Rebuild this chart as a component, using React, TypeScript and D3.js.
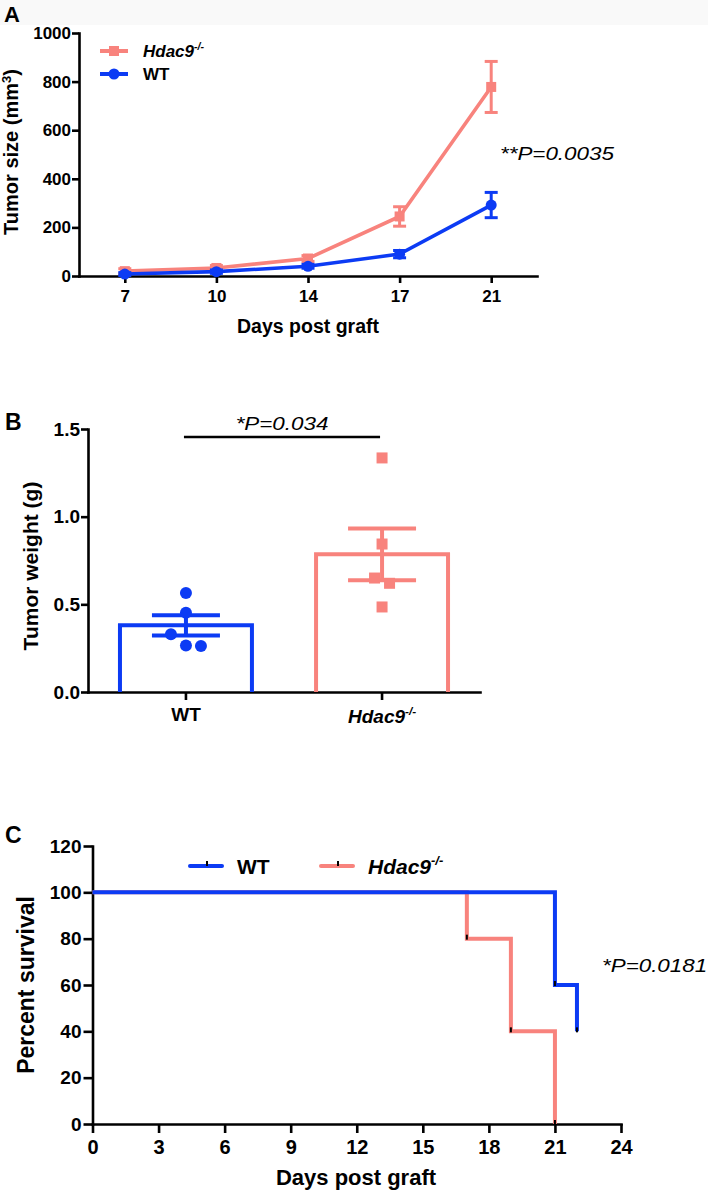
import React, { useEffect, useRef } from 'react';
import * as d3 from 'd3';

const PINK = '#F8837D';
const BLUE = '#0C3BF4';
const FONT = '"Liberation Sans", Arial, Helvetica, sans-serif';

// Panel A - tumor growth
const daysA = ['7', '10', '14', '17', '21'];
const koMeanA = [20, 33, 72, 245, 778];
const koSemA = [10, 10, 12, 40, 105];
const wtMeanA = [8, 18, 40, 90, 292];
const wtSemA = [6, 7, 8, 15, 52];
const ticksA = [0, 200, 400, 600, 800, 1000];

// Panel B - tumor weight
const groupsB = ['WT', 'Hdac9'];
const meanB = [0.38, 0.785];
const semB = [0.058, 0.148];
const wtPointsB = [0.565, 0.452, 0.33, 0.262, 0.265];
const koPointsB = [1.335, 0.844, 0.65, 0.62, 0.485];
const ticksB = [0, 0.5, 1.0, 1.5];
const sigB = 1.455;

// Panel C - survival
const timeWT = [0, 21, 22];
const survWT = [100, 60, 40];
const timeKO = [0, 17, 19, 21];
const survKO = [100, 80, 40, 0];
const ticksCx = [0, 3, 6, 9, 12, 15, 18, 21, 24];
const ticksCy = [0, 20, 40, 60, 80, 100, 120];

const App: React.FC = () => {
  const svgRef = useRef<SVGSVGElement>(null);

  useEffect(() => {
    if (!svgRef.current) return;
    const svg = d3.select(svgRef.current);
    svg.selectAll('*').remove();

    svg.append('rect').attr('width', 708).attr('height', 1191).attr('fill', '#fff');
    svg.append('rect').attr('width', 708).attr('height', 25).attr('fill', '#f9f9f9');

    const label = (x: number, y: number, str: string, size: number, opts: any = {}) => {
      let tr = `translate(${x},${y})`;
      if (opts.rotate) tr += ` rotate(${opts.rotate})`;
      if (opts.sx) tr += ` scale(${opts.sx},1)`;
      const t = svg.append('text')
        .attr('transform', tr)
        .attr('text-anchor', opts.anchor || 'start')
        .style('font-family', FONT)
        .style('font-size', size + 'px')
        .style('font-weight', opts.weight || 'bold')
        .style('font-style', opts.italic ? 'italic' : 'normal')
        .attr('fill', '#000');
      t.text(str);
      return t;
    };

    // gene name with superscript -/-
    const geneLabel = (x: number, y: number, size: number, anchor = 'start') => {
      const t = label(x, y, 'Hdac9', size, { italic: true, anchor });
      t.append('tspan')
        .attr('dy', -0.42 * size)
        .style('font-size', size * 0.62 + 'px')
        .text('-/-');
      return t;
    };

    const styleAxis = (g: any, size: number) => {
      g.attr('font-family', FONT).attr('font-size', size).attr('font-weight', 'bold');
      g.select('.domain').attr('stroke', '#000').attr('stroke-width', 2.6).attr('stroke-linecap', 'square');
      g.selectAll('.tick line').attr('stroke', '#000').attr('stroke-width', 2.6);
      g.selectAll('.tick text').attr('fill', '#000');
    };

    // ---------- Panel A ----------
    const xA = d3.scalePoint<string>().domain(daysA).range([79, 537]).padding(0.5);
    const yA = d3.scaleLinear().domain([0, 1000]).range([276, 33]);

    label(4, 22, 'A', 22);

    const gyA = svg.append('g').attr('transform', 'translate(79,0)')
      .call(d3.axisLeft(yA).tickValues(ticksA).tickFormat(d3.format('d') as any)
        .tickSize(7).tickSizeOuter(0).tickPadding(1) as any);
    styleAxis(gyA, 17);
    const gxA = svg.append('g').attr('transform', 'translate(0,276)')
      .call(d3.axisBottom(xA).tickSize(7).tickSizeOuter(0).tickPadding(7) as any);
    styleAxis(gxA, 17);

    label(18, 152, 'Tumor size (mm', 20, { rotate: -90, anchor: 'middle' })
      .call((t: any) => {
        t.append('tspan').attr('dy', -7).style('font-size', '13px').text('3');
        t.append('tspan').attr('dy', 7).text(')');
      });
    label(308, 333, 'Days post graft', 19.5, { anchor: 'middle' });

    const seriesA = [
      { mean: koMeanA, sem: koSemA, color: PINK, shape: 'square' },
      { mean: wtMeanA, sem: wtSemA, color: BLUE, shape: 'circle' },
    ];
    const lineA = d3.line<number>().x((_, i) => xA(daysA[i]) as number).y((d) => yA(d));
    seriesA.forEach((s) => {
      const g = svg.append('g');
      g.append('path').datum(s.mean).attr('d', lineA).attr('fill', 'none')
        .attr('stroke', s.color).attr('stroke-width', 3.6);
      s.mean.forEach((m, i) => {
        const cx = xA(daysA[i]) as number;
        const lo = yA(m - s.sem[i]);
        const hi = yA(m + s.sem[i]);
        g.append('line').attr('x1', cx).attr('x2', cx).attr('y1', lo).attr('y2', hi)
          .attr('stroke', s.color).attr('stroke-width', 3);
        [lo, hi].forEach((yy) => {
          g.append('line').attr('x1', cx - 6.5).attr('x2', cx + 6.5).attr('y1', yy).attr('y2', yy)
            .attr('stroke', s.color).attr('stroke-width', 3);
        });
        if (s.shape === 'square') {
          g.append('rect').attr('x', cx - 5).attr('y', yA(m) - 5).attr('width', 10).attr('height', 10)
            .attr('fill', s.color);
        } else {
          g.append('circle').attr('cx', cx).attr('cy', yA(m)).attr('r', 5.5).attr('fill', s.color);
        }
      });
    });

    // legend A
    svg.append('line').attr('x1', 100).attr('x2', 128).attr('y1', 51).attr('y2', 51)
      .attr('stroke', PINK).attr('stroke-width', 4);
    svg.append('rect').attr('x', 109).attr('y', 46).attr('width', 10).attr('height', 10).attr('fill', PINK);
    geneLabel(143, 57, 17);
    svg.append('line').attr('x1', 100).attr('x2', 128).attr('y1', 74).attr('y2', 74)
      .attr('stroke', BLUE).attr('stroke-width', 4);
    svg.append('circle').attr('cx', 114).attr('cy', 74).attr('r', 5.5).attr('fill', BLUE);
    label(143, 80, 'WT', 17);

    label(500, 160, '**P=0.0035', 17.5, { italic: true, weight: 'normal', sx: 1.28 });

    // ---------- Panel B ----------
    const xB = d3.scaleBand<string>().domain(groupsB).range([88, 480]).paddingInner(0.327).paddingOuter(0.163);
    const yB = d3.scaleLinear().domain([0, 1.5]).range([692, 429]);

    label(5, 430, 'B', 23);

    const gyB = svg.append('g').attr('transform', 'translate(88,0)')
      .call(d3.axisLeft(yB).tickValues(ticksB).tickFormat(d3.format('.1f') as any)
        .tickSize(7).tickSizeOuter(0).tickPadding(1) as any);
    styleAxis(gyB, 19);
    const gxB = svg.append('g').attr('transform', 'translate(0,692)')
      .call(d3.axisBottom(xB).tickSize(8).tickSizeOuter(0).tickFormat(() => '') as any);
    styleAxis(gxB, 19);

    label(186, 721, 'WT', 19, { anchor: 'middle' });
    geneLabel((xB('Hdac9') as number) + xB.bandwidth() / 2, 723, 19, 'middle');
    label(38, 566, 'Tumor weight (g)', 21, { rotate: -90, anchor: 'middle' });

    const colorsB = [BLUE, PINK];
    const pointsB = [wtPointsB, koPointsB];
    groupsB.forEach((grp, i) => {
      const x0 = xB(grp) as number;
      const x1 = x0 + xB.bandwidth();
      const cx = x0 + xB.bandwidth() / 2;
      const c = colorsB[i];
      svg.append('path')
        .attr('d', `M${x0},${yB(0)}V${yB(meanB[i])}H${x1}V${yB(0)}`)
        .attr('fill', 'none').attr('stroke', c).attr('stroke-width', 4);
      const lo = yB(meanB[i] - semB[i]);
      const hi = yB(meanB[i] + semB[i]);
      svg.append('line').attr('x1', cx).attr('x2', cx).attr('y1', lo).attr('y2', hi)
        .attr('stroke', c).attr('stroke-width', 4);
      [lo, hi].forEach((yy) => {
        svg.append('line').attr('x1', cx - 34).attr('x2', cx + 34).attr('y1', yy).attr('y2', yy)
          .attr('stroke', c).attr('stroke-width', 4);
      });

      // scatter: points closer than a marker get spread sideways, centred on the bar
      const sorted = [...pointsB[i]].sort((a, b) => b - a);
      const clusters: number[][] = [];
      sorted.forEach((v, k) => {
        if (k > 0 && yB(v) - yB(sorted[k - 1]) < 13) clusters[clusters.length - 1].push(v);
        else clusters.push([v]);
      });
      clusters.forEach((cl) => {
        cl.forEach((v, k) => {
          const px = cx + (k - (cl.length - 1) / 2) * 15;
          const py = yB(v);
          if (i === 0) {
            svg.append('circle').attr('cx', px).attr('cy', py).attr('r', 6).attr('fill', c);
          } else {
            svg.append('rect').attr('x', px - 5.5).attr('y', py - 5.5).attr('width', 11).attr('height', 11)
              .attr('fill', c);
          }
        });
      });
    });

    const sx0 = (xB('WT') as number) + xB.bandwidth() / 2 - 2;
    const sx1 = (xB('Hdac9') as number) + xB.bandwidth() / 2 - 2;
    svg.append('line').attr('x1', sx0).attr('x2', sx1).attr('y1', yB(sigB)).attr('y2', yB(sigB))
      .attr('stroke', '#000').attr('stroke-width', 2.5);
    label((sx0 + sx1) / 2, 430, '*P=0.034', 17.5, { italic: true, weight: 'normal', sx: 1.28, anchor: 'middle' });

    // ---------- Panel C ----------
    const xC = d3.scaleLinear().domain([0, 24]).range([92.5, 621]);
    const yC = d3.scaleLinear().domain([0, 120]).range([1124, 846]);

    label(5, 843, 'C', 23);

    const gyC = svg.append('g').attr('transform', 'translate(92.5,0)')
      .call(d3.axisLeft(yC).tickValues(ticksCy).tickSize(9).tickSizeOuter(0).tickPadding(2) as any);
    styleAxis(gyC, 19);
    const gxC = svg.append('g').attr('transform', 'translate(0,1124)')
      .call(d3.axisBottom(xC).tickValues(ticksCx).tickSize(9).tickSizeOuter(0).tickPadding(7) as any);
    styleAxis(gxC, 20);

    label(34, 985, 'Percent survival', 23, { rotate: -90, anchor: 'middle' });
    label(356, 1185, 'Days post graft', 22, { anchor: 'middle' });

    const stepLine = d3.line<[number, number]>()
      .x((d) => xC(d[0])).y((d) => yC(d[1])).curve(d3.curveStepAfter);
    const seriesC = [
      { t: timeKO, s: survKO, color: PINK },
      { t: timeWT, s: survWT, color: BLUE },
    ];
    seriesC.forEach((sr) => {
      const pts = sr.t.map((t, i) => [t, sr.s[i]] as [number, number]);
      svg.append('path').datum(pts).attr('d', stepLine).attr('fill', 'none')
        .attr('stroke', sr.color).attr('stroke-width', 4);
    });
    seriesC.forEach((sr) => {
      sr.t.forEach((t, i) => {
        if (i === 0) return;
        svg.append('line').attr('x1', xC(t)).attr('x2', xC(t))
          .attr('y1', yC(sr.s[i]) - 4).attr('y2', yC(sr.s[i]) + 1)
          .attr('stroke', '#000').attr('stroke-width', 2);
      });
    });

    // legend C
    const legC = [
      { x: 190, color: BLUE, text: 'WT' },
      { x: 321, color: PINK, text: 'gene' },
    ];
    legC.forEach((l) => {
      svg.append('line').attr('x1', l.x).attr('x2', l.x + 32).attr('y1', 866).attr('y2', 866)
        .attr('stroke', l.color).attr('stroke-width', 4).attr('stroke-linecap', 'round');
      svg.append('line').attr('x1', l.x + 17).attr('x2', l.x + 17).attr('y1', 861).attr('y2', 866)
        .attr('stroke', '#000').attr('stroke-width', 2);
      if (l.text === 'WT') label(l.x + 47, 873.5, 'WT', 21);
      else geneLabel(l.x + 47, 873.5, 21);
    });

    label(602, 972, '*P=0.0181', 17.5, { italic: true, weight: 'normal', sx: 1.28 });
  }, []);

  return (
    <svg
      ref={svgRef}
      width={708}
      height={1191}
      viewBox="0 0 708 1191"
      style={{ position: 'absolute', left: 0, top: 0, display: 'block' }}
    />
  );
};

export default App;
